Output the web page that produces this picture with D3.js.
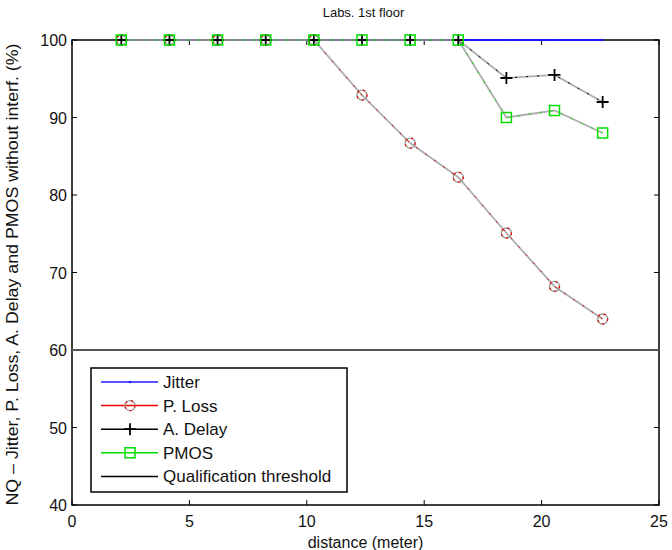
<!DOCTYPE html>
<html>
<head>
<meta charset="utf-8">
<script src="https://cdn.jsdelivr.net/npm/d3@7"></script>
<style>
  body { margin: 0; background: #fff; }
  text { font-family: "Liberation Sans", Arial, sans-serif; fill: #111; }
</style>
</head>
<body>
<div id="chart"></div>
<script>
// data
var distance = [2.1, 4.15, 6.2, 8.25, 10.3, 12.35, 14.4, 16.45, 18.5, 20.55, 22.6];
var jitter  = [100, 100, 100, 100, 100, 100, 100, 100, 100, 100, 100];
var pLoss   = [100, 100, 100, 100, 100, 92.9, 86.7, 82.3, 75.1, 68.2, 64];
var aDelay  = [100, 100, 100, 100, 100, 100, 100, 100, 95.1, 95.5, 92];
var pmos    = [100, 100, 100, 100, 100, 100, 100, 100, 90, 90.9, 88];
var threshold = 60;
var xTicks = [0, 5, 10, 15, 20, 25];
var yTicks = [40, 50, 60, 70, 80, 90, 100];
var legendNames = ["Jitter", "P. Loss", "A. Delay", "PMOS", "Qualification threshold"];

var W = 672, H = 550;
var margin = {top: 40, right: 13, bottom: 45, left: 72};
var width = W - margin.left - margin.right,
    height = H - margin.top - margin.bottom;

var svg = d3.select("#chart").append("svg")
    .attr("width", W).attr("height", H);
var g = svg.append("g")
    .attr("transform", "translate(" + margin.left + "," + margin.top + ")");

var x = d3.scaleLinear().domain([0, 25]).range([0, width]);
var y = d3.scaleLinear().domain([40, 100]).range([height, 0]);

// frame first, data drawn over it (like the reference)
g.append("rect").attr("width", width).attr("height", height)
    .style("fill", "none").style("stroke", "#000").style("stroke-width", 1.5);

var tl = 5;
xTicks.forEach(function (t) {
  g.append("line").attr("x1", x(t)).attr("x2", x(t)).attr("y1", height).attr("y2", height - tl).style("stroke", "#000");
  g.append("line").attr("x1", x(t)).attr("x2", x(t)).attr("y1", 0).attr("y2", tl).style("stroke", "#000");
  g.append("text").attr("x", x(t)).attr("y", height + 22)
      .attr("text-anchor", "middle").style("font-size", "16px").text(t);
});
yTicks.forEach(function (t) {
  g.append("line").attr("x1", 0).attr("x2", tl).attr("y1", y(t)).attr("y2", y(t)).style("stroke", "#000");
  g.append("line").attr("x1", width).attr("x2", width - tl).attr("y1", y(t)).attr("y2", y(t)).style("stroke", "#000");
  g.append("text").attr("x", -5).attr("y", y(t) + 6)
      .attr("text-anchor", "end").style("font-size", "16px").text(t);
});

// threshold
g.append("line")
    .attr("x1", 0).attr("x2", width)
    .attr("y1", y(threshold)).attr("y2", y(threshold))
    .style("stroke", "#555").style("stroke-width", 2);

var line = d3.line()
    .x(function (d) { return x(d[0]); })
    .y(function (d) { return y(d[1]); });

function pts(vals) { return distance.map(function (d, i) { return [d, vals[i]]; }); }

var series = [
  {vals: pLoss, color: "#e00", marker: "circle"},
  {vals: aDelay, color: "#000", marker: "plus"},
  {vals: pmos, color: "#0d0", marker: "square"}
];

// jitter (blue, tiny dots)
g.append("path").attr("d", line(pts(jitter)))
    .style("fill", "none").style("stroke", "#1a1aff").style("stroke-width", 2);

series.forEach(function (s) {
  // the scanned lines look grey with coloured specks
  g.append("path").attr("d", line(pts(s.vals)))
      .style("fill", "none").style("stroke", "#8c8c8c")
      .style("stroke-width", 1.8).style("opacity", 0.7);
  g.append("path").attr("d", line(pts(s.vals)))
      .style("fill", "none").style("stroke", s.color)
      .style("stroke-width", 1).style("stroke-dasharray", "2,9");
});

function drawMarker(sel, type, color, cx, cy) {
  if (type === "circle") {
    sel.append("circle").attr("cx", cx).attr("cy", cy).attr("r", 5)
        .style("fill", "none").style("stroke", "#999").style("stroke-width", 1.3);
    sel.append("circle").attr("cx", cx).attr("cy", cy).attr("r", 5)
        .style("fill", "none").style("stroke", color).style("stroke-width", 1.3)
        .style("stroke-dasharray", "2,4");
  } else if (type === "plus") {
    sel.append("path")
        .attr("d", "M" + (cx - 6) + "," + cy + "H" + (cx + 6) + "M" + cx + "," + (cy - 6) + "V" + (cy + 6))
        .style("stroke", color).style("stroke-width", 1.8);
  } else if (type === "square") {
    sel.append("rect").attr("x", cx - 5).attr("y", cy - 5).attr("width", 10).attr("height", 10)
        .style("fill", "none").style("stroke", color).style("stroke-width", 1.5);
  } else if (type === "dot") {
    sel.append("circle").attr("cx", cx).attr("cy", cy).attr("r", 1.2).style("fill", color);
  }
}

var markers = g.append("g");
distance.forEach(function (d, i) { drawMarker(markers, "dot", "#1a1aff", x(d), y(jitter[i])); });
series.forEach(function (s) {
  distance.forEach(function (d, i) { drawMarker(markers, s.marker, s.color, x(d), y(s.vals[i])); });
});

// labels
svg.append("text").attr("x", margin.left + width / 2 - 2).attr("y", 17)
    .attr("text-anchor", "middle").style("font-size", "13px").text("Labs. 1st floor");
svg.append("text").attr("x", margin.left + width / 2).attr("y", 548)
    .attr("text-anchor", "middle").style("font-size", "16px").text("distance (meter)");
svg.append("text")
    .attr("transform", "translate(18," + (margin.top + height / 2 + 2) + ")rotate(-90)")
    .attr("text-anchor", "middle").style("font-size", "16px")
    .attr("textLength", 462).attr("lengthAdjust", "spacingAndGlyphs")
    .text("NQ \u2013 Jitter, P. Loss, A. Delay and PMOS without interf. (%)");

// legend
var lg = svg.append("g").attr("transform", "translate(91,368)");
lg.append("rect").attr("width", 256).attr("height", 124)
    .style("fill", "#fff").style("stroke", "#000").style("stroke-width", 1.5);
var legendColors = ["#1a1aff", "#e00", "#000", "#0d0", "#000"];
var legendMarkers = ["dot", "circle", "plus", "square", null];
legendNames.forEach(function (name, i) {
  var ly = 14 + i * 23.6;
  lg.append("line").attr("x1", 10).attr("x2", 67).attr("y1", ly).attr("y2", ly)
      .style("stroke", legendColors[i]).style("stroke-width", 1.5);
  if (legendMarkers[i]) drawMarker(lg, legendMarkers[i], legendColors[i], 39, ly);
  lg.append("text").attr("x", 72).attr("y", ly + 6).style("font-size", "17px").text(name);
});
</script>
</body>
</html>
